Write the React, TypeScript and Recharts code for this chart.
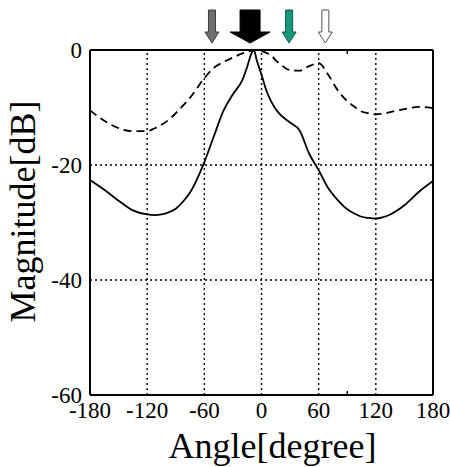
import {
  LineChart,
  Line,
  XAxis,
  YAxis,
  ReferenceLine,
  ReferenceDot,
} from "recharts";

// angle [degree] and magnitude [dB]
const angles = [
  -180, -165, -150, -135, -120, -112, -105, -97, -90, -82, -75, -60, -50, -40, -30, -20, -15, -10,
  -8, -5, 0, 5, 10, 15, 20, 30, 40, 50, 60, 70, 80, 90, 97, 105, 112, 120, 127, 135, 150, 165, 180,
];
const solidDb = [
  -22.6, -24.3, -26.2, -27.9, -28.6, -28.7, -28.6, -28.2, -27.6, -26.3, -24.8, -19.5, -15.0, -10.6,
  -7.7, -5.2, -2.9, -0.4, 0, -1.8, -4.3, -7.0, -8.9, -10.3, -11.3, -12.6, -14.0, -18.0, -20.9,
  -24.0, -26.1, -27.7, -28.4, -29.0, -29.2, -29.3, -29.1, -28.6, -27.0, -24.7, -22.8,
];
const dashedDb = [
  -10.5, -12.3, -13.6, -14.1, -14.1, -13.6, -13.0, -12.1, -11.0, -9.6, -8.3, -4.9, -3.1, -2.1,
  -1.3, -0.6, -0.3, -0.1, 0, 0, -0.2, -0.5, -0.9, -1.8, -2.5, -3.5, -3.6, -2.8, -2.3, -4.3, -7.0,
  -8.9, -9.8, -10.7, -11.0, -11.2, -11.1, -10.8, -10.3, -9.9, -10.1,
];

const xTicks = [-180, -150, -120, -90, -60, -30, 0, 30, 60, 90, 120, 150, 180];
const yTicks = [-60, -50, -40, -30, -20, -10, 0];
const xLabels = [-180, -120, -60, 0, 60, 120, 180];
const yLabels = [-60, -40, -20, 0];
const xGrid = [-120, -60, 0, 60, 120];
const yGrid = [-40, -20];

// direction markers above the plot
const arrowAngles = [-52, -12, 29, 67];
const arrowStyles = [
  { fill: "#6e6e6e", stroke: "#3c3c3c", big: false },
  { fill: "#000000", stroke: "#000000", big: true },
  { fill: "#17987e", stroke: "#0c5a4a", big: false },
  { fill: "#ffffff", stroke: "#555555", big: false },
];

const rows = angles.map((a, i) => ({ angle: a, solid: solidDb[i], dashed: dashedDb[i] }));

const FONT = "Liberation Serif";
const X_DOMAIN = [-180, 180];
const Y_DOMAIN = [-60, 0];

function XTick(p: any) {
  return (
    <text x={p.x} y={p.y} dy="0.71em" textAnchor="middle" fontSize={23} fill="#000" fontFamily={FONT}>
      {p.payload.value}
    </text>
  );
}

function YTick(p: any) {
  return (
    <text x={p.x} y={p.y} dy="0.36em" textAnchor="end" fontSize={23} fill="#000" fontFamily={FONT}>
      {p.payload.value}
    </text>
  );
}

function Arrow(props: any, style: { fill: string; stroke: string; big: boolean }) {
  const { cx, cy } = props;
  const shaft = style.big ? 10 : 3.5;
  const head = style.big ? 20 : 7;
  const top = cy - 40;
  const neck = cy - 18;
  const tip = cy - 7;
  const d = `M${cx - shaft},${top} L${cx + shaft},${top} L${cx + shaft},${neck} L${cx + head},${neck} L${cx},${tip} L${cx - head},${neck} L${cx - shaft},${neck} Z`;
  return <path d={d} fill={style.fill} stroke={style.stroke} strokeWidth={1} />;
}

const ids = { xAxisId: "x", yAxisId: "y" };
const grid = { stroke: "#000", strokeWidth: 1.4, strokeDasharray: "2 3" };
// frame axes: mirrored so the ticks point into the plot
const frameAxis = {
  mirror: true,
  type: "number" as const,
  interval: 0 as const,
  axisLine: { stroke: "#000", strokeWidth: 2 },
  tickLine: { stroke: "#000", strokeWidth: 1.4 },
  tickSize: 4,
  tickFormatter: () => "",
};

export default function App() {
  return (
    <div style={{ position: "absolute", left: 0, top: 0, background: "#fff" }}>
      <LineChart
        width={450}
        height={467}
        data={rows}
        margin={{ top: 50, right: 17, left: 0, bottom: 0 }}
      >
        <XAxis
          xAxisId="x"
          dataKey="angle"
          type="number"
          domain={X_DOMAIN}
          ticks={xLabels}
          interval={0}
          height={72}
          axisLine={false}
          tickLine={false}
          tickSize={0}
          tickMargin={7}
          tick={XTick}
          label={{
            value: "Angle[degree]",
            position: "insideBottom",
            offset: 9,
            dx: 11,
            fontSize: 36,
            fill: "#000",
            fontFamily: FONT,
          }}
        />
        <YAxis
          yAxisId="y"
          type="number"
          domain={Y_DOMAIN}
          ticks={yLabels}
          interval={0}
          width={90}
          axisLine={false}
          tickLine={false}
          tickSize={0}
          tickMargin={8}
          tick={YTick}
          label={{
            value: "Magnitude[dB]",
            angle: -90,
            position: "insideLeft",
            offset: 22,
            dy: -11,
            fontSize: 36,
            fill: "#000",
            fontFamily: FONT,
            style: { textAnchor: "middle" },
          }}
        />
        <XAxis xAxisId="b" orientation="bottom" domain={X_DOMAIN} ticks={xTicks} {...frameAxis} />
        <XAxis xAxisId="t" orientation="top" domain={X_DOMAIN} ticks={xTicks} {...frameAxis} />
        <YAxis yAxisId="l" orientation="left" domain={Y_DOMAIN} ticks={yTicks} {...frameAxis} />
        <YAxis yAxisId="r" orientation="right" domain={Y_DOMAIN} ticks={yTicks} {...frameAxis} />
        {xGrid.map((v) => (
          <ReferenceLine key={"gx" + v} {...ids} x={v} {...grid} />
        ))}
        {yGrid.map((v) => (
          <ReferenceLine key={"gy" + v} {...ids} y={v} {...grid} />
        ))}
        <Line
          {...ids}
          type="monotone"
          dataKey="dashed"
          stroke="#000"
          strokeWidth={1.8}
          strokeDasharray="8 5"
          dot={false}
          isAnimationActive={false}
        />
        <Line
          {...ids}
          type="monotone"
          dataKey="solid"
          stroke="#000"
          strokeWidth={1.8}
          dot={false}
          isAnimationActive={false}
        />
        {arrowAngles.map((a, i) => (
          <ReferenceDot
            key={"a" + i}
            {...ids}
            x={a}
            y={0}
            r={0}
            ifOverflow="visible"
            shape={(p: any) => Arrow(p, arrowStyles[i])}
          />
        ))}
      </LineChart>
    </div>
  );
}
